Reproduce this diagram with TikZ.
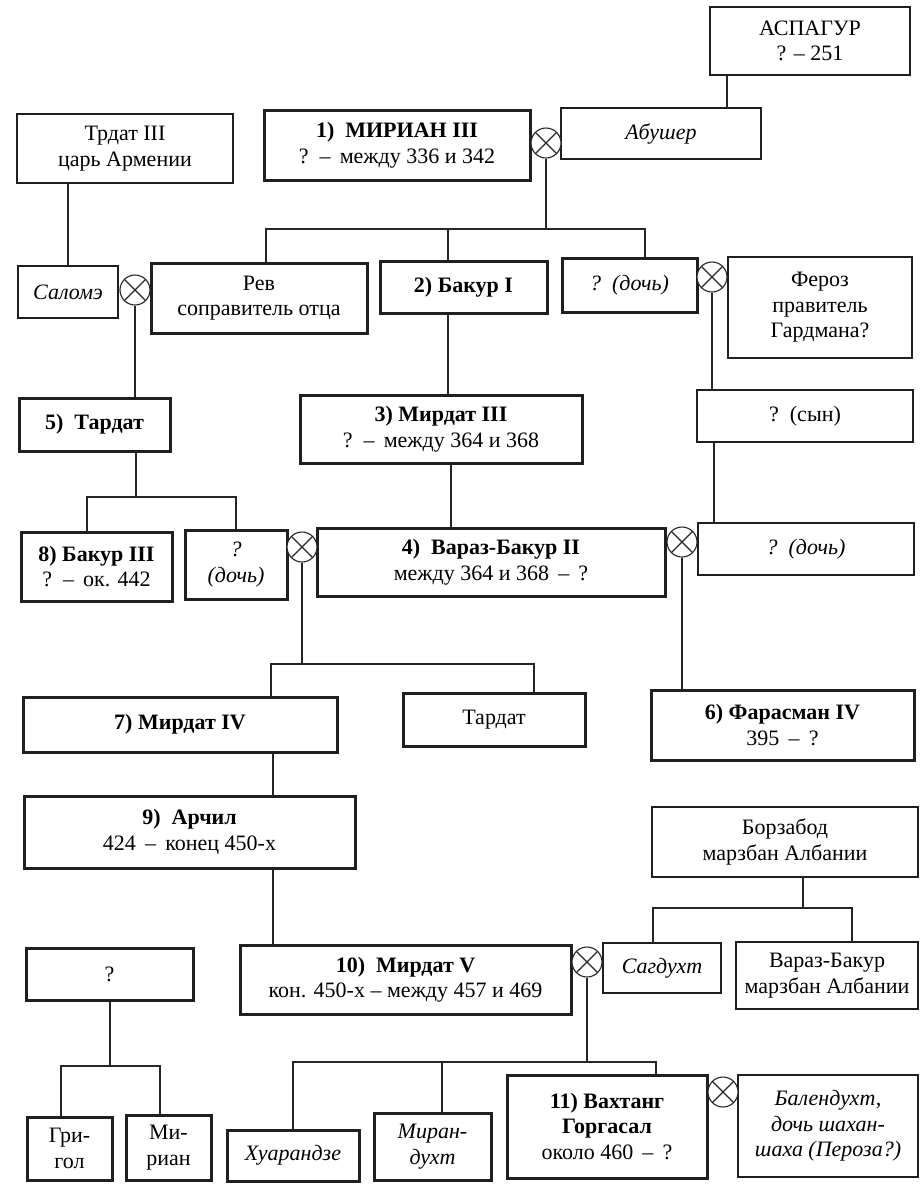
\documentclass[tikz,border=0pt]{standalone}
\usepackage{fontspec}
\setmainfont{Liberation Serif}
\begin{document}
\begin{tikzpicture}[x=1pt,y=-1pt,
  box/.style={draw=black!88, rectangle, inner sep=1pt, align=center, font=\fontsize{22}{25.5}\selectfont},
  tbox/.style={box, line width=1.2pt},
  kbox/.style={box, line width=3pt},
  conn/.style={draw=black!85, line width=1.1pt},
  xc/.style={circle, draw=black!85, line width=1.1pt, minimum size=30pt, inner sep=0pt, fill=white,
    path picture={\draw[black!85, line width=1.1pt] (path picture bounding box.north west) -- (path picture bounding box.south east)
      (path picture bounding box.north east) -- (path picture bounding box.south west);}}
]
\fill[white] (0,0) rectangle (919,1184);
\useasboundingbox (0,0) rectangle (919,1184);

% ---- boxes ----
\node[tbox, minimum width=200pt, minimum height=68pt] (asp) at (810,41) {АСПАГУР\\? – 251};
\node[tbox, minimum width=216pt, minimum height=69pt] (trdat) at (125,148.5) {Трдат III\\царь Армении};
\node[kbox, minimum width=266pt, minimum height=70pt] (mirian) at (397,145) {{\bfseries 1)\enspace МИРИАН III}\\? \,–\, между 336 и 342};
\node[tbox, minimum width=200pt, minimum height=51pt] (abusher) at (661,133.5) {\itshape Абушер};
\node[tbox, minimum width=100pt, minimum height=52pt] (salome) at (68,292) {\itshape Саломэ};
\node[kbox, minimum width=216pt, minimum height=70pt] (rev) at (259,298) {Рев\\соправитель отца};
\node[kbox, minimum width=167pt, minimum height=52pt] (bakur1) at (463.5,287) {\bfseries 2) Бакур I};
\node[kbox, minimum width=135pt, minimum height=54pt] (doch1) at (629.5,285) {\itshape ?\enspace (дочь)};
\node[tbox, minimum width=184pt, minimum height=101pt] (feroz) at (820,307.5) {Фероз\\правитель\\Гардмана?};
\node[kbox, minimum width=151pt, minimum height=53pt] (tardat5) at (94.5,424.5) {\bfseries 5)\enspace Тардат};
\node[kbox, minimum width=282pt, minimum height=68pt] (mirdat3) at (441,429) {{\bfseries 3) Мирдат III}\\? \,–\, между 364 и 368};
\node[tbox, minimum width=216pt, minimum height=52pt] (syn) at (805,416) {?\enspace (сын)};
\node[kbox, minimum width=151pt, minimum height=69pt] (bakur3) at (96.5,566.5) {{\bfseries 8) Бакур III}\\? \,–\, ок. 442};
\node[kbox, minimum width=102pt, minimum height=69pt] (doch2) at (236,564.5) {\itshape ?\\\itshape (дочь)};
\node[kbox, minimum width=348pt, minimum height=68pt] (varaz) at (491,562) {{\bfseries 4)\enspace Вараз-Бакур II}\\между 364 и 368 \,–\, ?};
\node[tbox, minimum width=216pt, minimum height=52pt] (doch3) at (806,549) {\itshape ?\enspace (дочь)};
\node[kbox, minimum width=314pt, minimum height=55pt] (mirdat4) at (180,724.5) {\bfseries 7) Мирдат IV};
\node[kbox, minimum width=182pt, minimum height=53pt] (tardat) at (494,719.5) {Тардат};
\node[kbox, minimum width=263pt, minimum height=70pt] (farasman) at (782.5,725) {{\bfseries 6) Фарасман IV}\\395 \,–\, ?};
\node[kbox, minimum width=331pt, minimum height=72pt] (archil) at (189.5,832) {{\bfseries 9)\enspace Арчил}\\424 \,–\, конец 450-х};
\node[tbox, minimum width=266pt, minimum height=70pt] (borzabod) at (785,842) {Борзабод\\марзбан Албании};
\node[kbox, minimum width=167pt, minimum height=52pt] (q) at (109.5,974) {?};
\node[kbox, minimum width=331pt, minimum height=69pt] (mirdat5) at (405.5,979.5) {{\bfseries 10)\enspace Мирдат V}\\кон. 450-х – между 457 и 469};
\node[tbox, minimum width=118pt, minimum height=50pt] (sagdukht) at (662,968) {\itshape Сагдухт};
\node[tbox, minimum width=182pt, minimum height=67pt] (varazb) at (827,975.5) {Вараз-Бакур\\марзбан Албании};
\node[kbox, minimum width=85pt, minimum height=63pt] (grigol) at (69.5,1148.5) {Гри-\\гол};
\node[kbox, minimum width=85pt, minimum height=65pt] (mirian2) at (168.5,1147.5) {Ми-\\риан};
\node[kbox, minimum width=132pt, minimum height=51pt] (khuar) at (293,1155.5) {\itshape Хуарандзе};
\node[kbox, minimum width=117pt, minimum height=67pt] (mirandukht) at (432.5,1146.5) {\itshape Миран-\\\itshape духт};
\node[kbox, minimum width=200pt, minimum height=103pt] (vakhtang) at (607,1126.5) {{\bfseries 11) Вахтанг}\\{\bfseries Горгасал}\\около 460 \,–\, ?};
\node[tbox, minimum width=180pt, minimum height=102pt] (balendukht) at (828,1126) {\itshape Балендухт,\\\itshape дочь шахан-\\\itshape шаха (Пероза?)};

% ---- marriage signs ----
\node[xc] (c1) at (546,143) {};
\node[xc] (c2) at (135,290) {};
\node[xc] (c3) at (712,277) {};
\node[xc] (c4) at (302,547) {};
\node[xc] (c5) at (682,542) {};
\node[xc] (c6) at (587,962) {};
\node[xc] (c7) at (723,1092) {};

% ---- junctions ----
\coordinate (j1) at (546,229);
\coordinate (j2) at (136,497);
\coordinate (j3) at (302,664);
\coordinate (j4) at (803,908);
\coordinate (j5) at (110,1066);
\coordinate (j6) at (587,1062);

% ---- connectors ----
\draw[conn] (asp.south -| 727,0) -- (abusher.north -| 727,0);
\draw[conn] (trdat.south -| 68,0) -- (salome.north -| 68,0);

\draw[conn] (c1.south) -- (j1);
\draw[conn] (rev.north -| 266,0) |- (j1);
\draw[conn] (bakur1.north -| 448,0) |- (j1);
\draw[conn] (doch1.north -| 645,0) |- (j1);

\draw[conn] (bakur1.south -| 448,0) -- (mirdat3.north -| 448,0);
\draw[conn] (c2.south) -- (tardat5.north -| c2.south);
\draw[conn] (c3.south) -- (syn.north -| c3.south);

\draw[conn] (tardat5.south -| j2) -- (j2);
\draw[conn] (bakur3.north -| 87,0) |- (j2);
\draw[conn] (doch2.north -| 236,0) |- (j2);

\draw[conn] (mirdat3.south -| 451,0) -- (varaz.north -| 451,0);
\draw[conn] (syn.south -| 714,0) -- (doch3.north -| 714,0);

\draw[conn] (c4.south) -- (j3);
\draw[conn] (mirdat4.north -| 271,0) |- (j3);
\draw[conn] (tardat.north -| 534,0) |- (j3);

\draw[conn] (c5.south) -- (farasman.north -| c5.south);
\draw[conn] (mirdat4.south -| 273,0) -- (archil.north -| 273,0);
\draw[conn] (archil.south -| 273,0) -- (mirdat5.north -| 273,0);

\draw[conn] (borzabod.south -| j4) -- (j4);
\draw[conn] (sagdukht.north -| 653,0) |- (j4);
\draw[conn] (varazb.north -| 852,0) |- (j4);

\draw[conn] (q.south -| j5) -- (j5);
\draw[conn] (grigol.north -| 61,0) |- (j5);
\draw[conn] (mirian2.north -| 160,0) |- (j5);

\draw[conn] (c6.south) -- (j6);
\draw[conn] (khuar.north -| 293,0) |- (j6);
\draw[conn] (mirandukht.north -| 442,0) |- (j6);
\draw[conn] (vakhtang.north -| 656,0) |- (j6);
\end{tikzpicture}
\end{document}
